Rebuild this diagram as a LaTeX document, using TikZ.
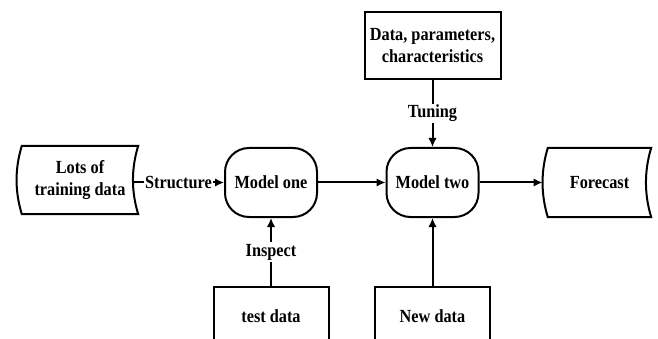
\documentclass[tikz,border=0pt]{standalone}
\usepackage{fontspec}
\setmainfont{Liberation Serif}[FakeStretch=0.88]
\usetikzlibrary{arrows.meta,calc}

% outline of a "stored data" flowchart shape drawn around a plain node
\newcommand\storedoutline[1]{%
  \draw[line] (#1.north west) -- (#1.north east)
    .. controls ($(#1.north east)+(-7,23)$) and ($(#1.south east)+(-7,-23)$) .. (#1.south east)
    -- (#1.south west)
    .. controls ($(#1.south west)+(-7,-23)$) and ($(#1.north west)+(-7,23)$) .. cycle;}

\begin{document}
\begin{tikzpicture}[x=1pt,y=-1pt,
  every node/.style={font=\bfseries\fontsize{18.5}{22}\selectfont, align=center},
  line/.style={line width=2pt},
  arr/.style={line, -{Latex[length=9pt,width=8.5pt]}},
  storebox/.style={minimum width=#1, minimum height=68pt, inner sep=0pt},
  modelbox/.style={draw, line width=2pt, rounded corners=24pt,
                   minimum width=92pt, minimum height=69pt, inner sep=0pt},
  plainbox/.style={draw, line width=2pt, inner sep=0pt},
  lbl/.style={fill=white, inner sep=1.5pt}
]
\useasboundingbox (0,0) rectangle (658,339);
\clip (0,0) rectangle (658,339);

% main chain
\node[storebox=116pt] (train) at (80,180) {Lots of\\training data};
\storedoutline{train}
\node[modelbox] (m1) at (271,182.5) {Model one};
\node[modelbox] (m2) at (432.5,182.5) {Model two};
\node[storebox=103pt, minimum height=69pt] (fc) at (599.5,182.5) {Forecast};
\storedoutline{fc}

% side inputs
\node[plainbox, minimum width=136pt, minimum height=67pt] (dpc) at (432.5,45.5)
  {Data, parameters,\\characteristics};
\node[plainbox, minimum width=115pt, minimum height=58pt] (test) at (271,316) {test data};
\node[plainbox, minimum width=115pt, minimum height=58pt] (new) at (432.5,316) {New data};

% connectors
\draw[arr] ([xshift=-5.25pt]train.east |- m1.west) -- node[lbl]{Structure} (m1.west);
\draw[arr] (m1.east) -- (m2.west);
\draw[arr] (m2.east) -- ([xshift=-5.25pt]fc.west);
\draw[arr] (dpc.south) -- node[lbl]{Tuning} (m2.north);
\draw[arr] (test.north) -- node[lbl]{Inspect} (m1.south);
\draw[arr] (new.north) -- (m2.south);
\end{tikzpicture}
\end{document}
